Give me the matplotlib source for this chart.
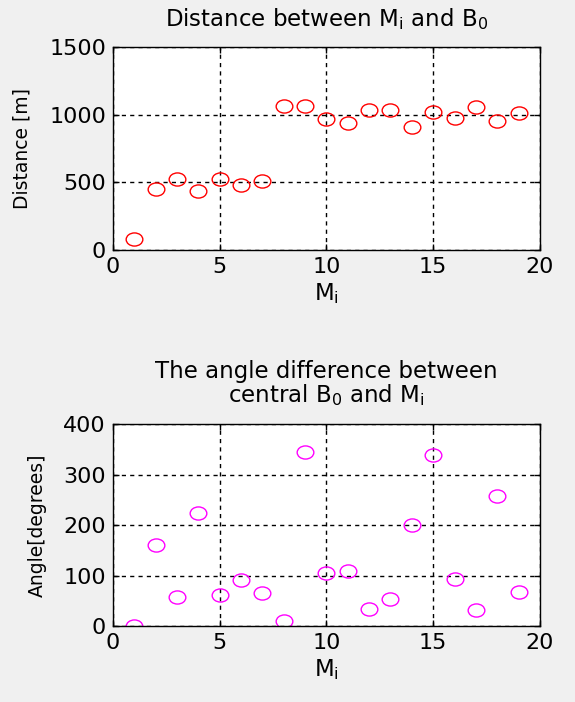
import numpy as np
import matplotlib.pyplot as plt
from matplotlib.path import Path
from matplotlib.transforms import Affine2D

# point index M_i
m_idx = np.arange(1, 20)
distance_m = [78, 454, 522, 432, 524, 478, 510, 1066, 1066, 966,
              941, 1034, 1034, 907, 1022, 978, 1054, 956, 1010]
angle_deg = [0, 160, 58, 224, 62, 91, 65, 10, 345, 105,
             110, 34, 53, 201, 338, 93, 32, 258, 68]

# slightly wide ellipse marker (the source image is stretched)
ellipse = Path.unit_circle().transformed(Affine2D().scale(1.27, 1.0))

plt.rcParams['font.family'] = ['DejaVu Sans']
fig = plt.figure(figsize=(5.75, 7.02), dpi=100, facecolor='#f0f0f0')

ax1 = fig.add_axes([0.1965, 0.644, 0.7425, 0.289])
ax2 = fig.add_axes([0.1965, 0.108, 0.7425, 0.288])

def style(ax, yticks):
    ax.set_xlim(0, 20)
    ax.set_xticks([0, 5, 10, 15, 20])
    ax.set_ylim(yticks[0], yticks[-1])
    ax.set_yticks(yticks)
    ax.tick_params(direction='in', top=True, right=True, labelsize=16,
                   length=4, width=1, pad=5)
    ax.grid(True, color='black', linestyle=(0, (3, 3)), linewidth=1)
    for s in ax.spines.values():
        s.set_linewidth(1)
    ax.set_facecolor('white')

ax1.plot(m_idx, distance_m, linestyle='none', marker=ellipse, markersize=12,
         markerfacecolor='none', markeredgecolor='red', markeredgewidth=1.0)
style(ax1, [0, 500, 1000, 1500])
ax1.set_title(r'Distance between M$_\mathregular{i}$ and B$_\mathregular{0}$',
              fontsize=16.5, pad=15)
ax1.set_xlabel(r'M$_\mathregular{i}$', fontsize=16.5, labelpad=3)
ax1.set_ylabel('Distance [m]', fontsize=13.5, labelpad=13)

ax2.plot(m_idx, angle_deg, linestyle='none', marker=ellipse, markersize=12,
         markerfacecolor='none', markeredgecolor='magenta', markeredgewidth=1.0)
style(ax2, [0, 100, 200, 300, 400])
ax2.set_title('The angle difference between\n'
              r'central B$_\mathregular{0}$ and M$_\mathregular{i}$',
              fontsize=16.5, pad=16, linespacing=0.95)
ax2.set_xlabel(r'M$_\mathregular{i}$', fontsize=16.5, labelpad=3)
ax2.set_ylabel('Angle[degrees]', fontsize=13.5, labelpad=12)

fig.savefig('out.png', dpi=100, facecolor=fig.get_facecolor())
